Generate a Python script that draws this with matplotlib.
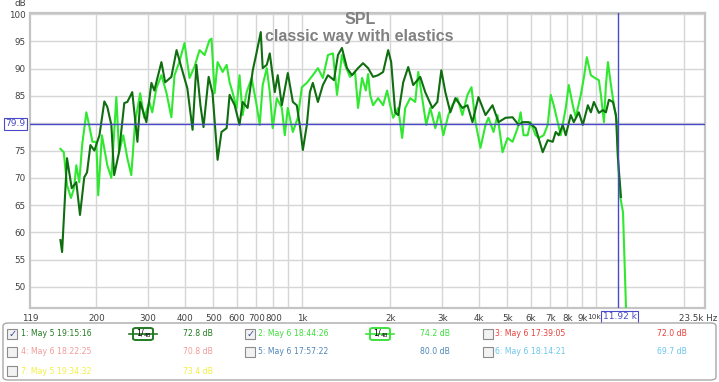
import matplotlib.pyplot as plt
from matplotlib.patches import FancyBboxPatch, Rectangle
from matplotlib.lines import Line2D
from matplotlib.transforms import ScaledTranslation

W, H = 719, 382

# trace 1 (dark green) - May 5 19:15:16
freq_1 = [151, 153, 159, 165, 171, 176, 182, 186, 191, 197,
          205, 213, 218, 225, 230, 239, 249, 255, 265, 276,
          282, 296, 308, 315, 333, 343, 360, 375, 390, 408,
          425, 438, 452, 463, 482, 497, 517, 533, 555, 568,
          591, 614, 629, 654, 681, 702, 725, 736, 760, 778,
          809, 828, 855, 896, 932, 961, 984, 1008, 1040, 1065,
          1090, 1134, 1179, 1227, 1286, 1327, 1369, 1424, 1481, 1553,
          1615, 1680, 1747, 1817, 1890, 1966, 2013, 2077, 2127, 2212,
          2300, 2392, 2527, 2628, 2778, 2889, 2981, 3076, 3199, 3328,
          3516, 3658, 3804, 3988, 4213, 4451, 4666, 4929, 5208, 5460,
          5634, 5905, 6240, 6594, 6858, 7133, 7303, 7476, 7714, 7898,
          8214, 8410, 8747, 9027, 9391, 9614, 9844, 10237, 10565, 10817,
          11076, 11429, 11701, 11886, 12169]
spl_1 = [58.6, 56.4, 73.6, 68.1, 69.2, 63.2, 70.1, 71.0, 76.0, 75.0,
         77.8, 84.0, 83.0, 79.7, 70.5, 74.7, 83.7, 83.9, 85.7, 76.6,
         83.9, 80.2, 87.4, 86.0, 91.2, 87.5, 88.5, 93.4, 90.1, 86.4,
         78.8, 90.7, 83.3, 79.3, 88.5, 85.5, 73.3, 78.4, 79.1, 85.2,
         83.3, 79.7, 83.9, 82.8, 89.7, 93.0, 96.7, 90.1, 90.7, 92.8,
         85.7, 88.8, 83.3, 89.2, 83.9, 83.3, 79.7, 75.1, 79.7, 85.7,
         87.4, 83.9, 87.0, 88.8, 87.9, 92.5, 93.8, 90.1, 88.8, 90.1,
         91.0, 90.1, 88.5, 88.8, 89.4, 93.4, 91.2, 82.0, 81.5, 87.5,
         90.3, 87.0, 88.5, 85.7, 82.8, 83.9, 89.7, 85.7, 82.0, 84.6,
         82.8, 83.3, 80.2, 84.8, 81.5, 83.3, 80.2, 81.0, 81.1, 79.7,
         80.2, 80.2, 79.1, 74.7, 76.9, 76.6, 78.4, 77.8, 79.7, 77.8,
         81.5, 80.2, 82.0, 79.7, 83.3, 82.0, 83.9, 81.9, 82.4, 82.0,
         84.3, 83.9, 81.5, 73.6, 66.5]

# trace 2 (bright green) - May 6 18:44:26
freq_2 = [151, 155, 159, 164, 168, 171, 175, 179, 185, 189,
          194, 200, 203, 209, 218, 225, 234, 239, 247, 255,
          263, 271, 282, 291, 303, 310, 320, 333, 346, 360,
          369, 383, 399, 415, 431, 449, 467, 485, 493, 505,
          517, 538, 555, 568, 581, 600, 614, 629, 649, 675,
          702, 719, 736, 760, 778, 796, 822, 855, 875, 896,
          932, 969, 1000, 1040, 1090, 1134, 1179, 1227, 1276, 1317,
          1369, 1402, 1458, 1517, 1553, 1603, 1650, 1680, 1707, 1747,
          1817, 1890, 1950, 1997, 2045, 2127, 2194, 2247, 2337, 2430,
          2488, 2567, 2649, 2734, 2844, 2935, 3028, 3149, 3250, 3381,
          3516, 3658, 3775, 3895, 4051, 4213, 4313, 4486, 4629, 4814,
          5007, 5208, 5417, 5546, 5678, 5859, 5999, 6240, 6390, 6646,
          6858, 7022, 7189, 7418, 7594, 7898, 8086, 8344, 8543, 8886,
          9099, 9317, 9614, 9922, 10237, 10401, 10649, 10817, 10990, 11251,
          11518, 11793, 11886, 12074, 12365, 12659, 12750]
spl_2 = [75.3, 74.7, 68.7, 66.3, 68.1, 72.3, 69.2, 76.0, 82.0, 79.7,
         76.6, 76.6, 66.8, 77.8, 72.3, 70.0, 84.8, 74.7, 77.8, 73.6,
         70.5, 80.2, 85.5, 81.0, 83.9, 82.0, 86.4, 88.8, 85.7, 81.1,
         88.8, 91.2, 94.7, 88.3, 90.3, 93.4, 92.5, 95.2, 95.5, 85.5,
         91.2, 89.4, 90.7, 87.5, 85.7, 82.8, 88.8, 81.5, 85.7, 88.3,
         83.3, 79.7, 87.0, 90.1, 85.7, 79.1, 84.6, 82.8, 77.8, 82.8,
         78.4, 81.0, 86.6, 87.4, 88.8, 90.1, 88.3, 92.5, 92.8, 85.2,
         92.5, 90.7, 88.5, 89.4, 82.8, 88.3, 86.0, 89.0, 85.2, 83.3,
         84.6, 83.3, 86.0, 83.3, 81.0, 82.8, 77.3, 82.8, 84.6, 83.9,
         89.4, 84.6, 79.7, 82.8, 79.1, 82.0, 77.8, 81.5, 83.3, 84.6,
         81.5, 85.2, 86.6, 80.2, 75.5, 79.7, 81.0, 78.4, 81.5, 74.7,
         77.3, 76.6, 79.1, 82.0, 77.8, 77.8, 80.2, 77.8, 77.3, 77.8,
         79.7, 85.2, 83.3, 80.2, 77.8, 82.8, 87.0, 83.3, 81.1, 85.2,
         88.3, 92.1, 88.8, 88.3, 87.9, 85.2, 80.2, 87.0, 91.2, 87.0,
         83.3, 80.2, 73.6, 66.8, 63.7, 46.2, 44.0]

x_ticks = [119, 200, 300, 400, 500, 600, 700, 800, 1000, 2000, 3000, 4000,
           5000, 6000, 7000, 8000, 9000, 10000]
x_labels = ['119', '200', '300', '400', '500', '600', '700', '800', '1k', '2k',
            '3k', '4k', '5k', '6k', '7k', '8k', '9k', '10k']
x_grid = [200, 300, 400, 500, 600, 700, 800, 900, 1000, 2000, 3000, 4000,
          5000, 6000, 7000, 8000, 9000, 10000, 20000]
y_ticks = [50, 55, 60, 65, 70, 75, 85, 90, 95, 100]
y_grid = [50, 55, 60, 65, 70, 75, 80, 85, 90, 95, 100]
cursor_freq = 11920
cursor_db = 79.9

trace_names = ['1: May 5 19:15:16', '2: May 6 18:44:26', '3: May 6 17:39:05',
               '4: May 6 18:22:25', '5: May 6 17:57:22', '6: May 6 18:14:21',
               '7: May 5 19:34:32']
trace_levels = ['72.8 dB', '74.2 dB', '72.0 dB', '70.8 dB', '80.0 dB',
                '69.7 dB', '73.4 dB']
trace_colors = ['#237a23', '#3de03d', '#e8403a', '#f29a9a', '#4f86b8',
                '#6cc6ee', '#f2f040']
trace_checked = [True, True, False, False, False, False, False]

dark_green = '#0f6e0f'
bright_green = '#30e830'
cursor_col = '#4a4ac8'
grid_col = '#d6d6d6'
text_col = '#404040'


def fx(x):
    return x / W


def fy(y):
    return 1 - y / H


fig = plt.figure(figsize=(W / 100, H / 100), dpi=100)
ax = fig.add_axes([fx(30), fy(308), (705 - 30) / W, (308 - 13) / H])

ax.set_xscale('log')
ax.set_xlim(119, 23500)
ax.set_ylim(46.15, 100.2)

for g in x_grid:
    ax.axvline(g, color=grid_col, lw=1, zorder=1)
for g in y_grid:
    ax.axhline(g, color=grid_col, lw=1, zorder=1)

ax.plot(freq_2, spl_2, color=bright_green, lw=1.5, zorder=3)
ax.plot(freq_1, spl_1, color=dark_green, lw=1.5, zorder=4)

ax.axvline(cursor_freq, color=cursor_col, lw=1, zorder=5)
ax.axhline(cursor_db, color=cursor_col, lw=1, zorder=5)

ax.set_xticks(x_ticks)
ax.set_xticklabels(x_labels)
ax.set_xticks([], minor=True)
ax.set_yticks(y_ticks)
ax.set_yticklabels([str(v) for v in y_ticks])
ax.tick_params(length=0, labelsize=6.3, labelcolor=text_col)
ax.tick_params(axis='x', pad=4)
ax.tick_params(axis='y', pad=3)
# the 10k label is squeezed between 9k and the cursor readout
last = ax.get_xticklabels()[-1]
last.set_fontsize(5.4)
last.set_transform(last.get_transform() +
                   ScaledTranslation(-2 / 100, 0, fig.dpi_scale_trans))
for s in ax.spines.values():
    s.set_color('#c4c4c4')
    s.set_linewidth(1.6)

# cursor readouts
ax.annotate(f'{cursor_db}', xy=(0, cursor_db), xycoords=('axes fraction', 'data'),
            xytext=(-3, 0), textcoords='offset points', ha='right', va='center',
            fontsize=6.5, color=cursor_col, zorder=10, annotation_clip=False,
            bbox=dict(boxstyle='square,pad=0.15', fc='white', ec=cursor_col, lw=0.8))
ax.annotate('11.92 k', xy=(cursor_freq, 0), xycoords=('data', 'axes fraction'),
            xytext=(1, -3), textcoords='offset points', ha='center', va='top',
            fontsize=6.5, color=cursor_col, zorder=10, annotation_clip=False,
            bbox=dict(boxstyle='square,pad=0.15', fc='white', ec=cursor_col, lw=0.8))
ax.annotate('23.5k Hz', xy=(1, 0), xycoords='axes fraction',
            xytext=(9, -4.5), textcoords='offset points', ha='right', va='top',
            fontsize=6.3, color=text_col, annotation_clip=False)

fig.text(fx(20), fy(4), 'dB', fontsize=6.3, color=text_col, ha='center', va='center')

# titles
fig.text(fx(360), fy(19.5), 'SPL', fontsize=11.5, fontweight='bold',
         family='Liberation Sans', color='#808080', ha='center', va='center')
fig.text(fx(359), fy(37), 'classic way with elastics', fontsize=11.5,
         fontweight='bold', family='Liberation Sans', color='#808080',
         ha='center', va='center')

# legend panel
fig.patches.append(FancyBboxPatch((fx(3), fy(380)), fx(713), (380 - 323) / H,
                                  boxstyle='round,pad=0,rounding_size=0.008',
                                  transform=fig.transFigure, fc='white',
                                  ec='#a8a8a8', lw=1))

col_box = [7, 245, 483]
col_text = [21, 258, 495]
col_level = [183, 420, 657]
col_icon = [143, 380]
row_y = [334, 352, 371]

for i, name in enumerate(trace_names):
    r, c = divmod(i, 3)
    y = row_y[r]
    col = trace_colors[i]
    fig.patches.append(Rectangle((fx(col_box[c]), fy(y + 5)), 10 / W, 10 / H,
                                 transform=fig.transFigure, fc='#f2f2f2',
                                 ec='#8c8c8c', lw=0.8))
    if trace_checked[i]:
        fig.text(fx(col_box[c] + 5.5), fy(y - 0.5), '\u2713', fontsize=7,
                 color='#3b4a90', ha='center', va='center')
        cx = col_icon[c]
        fig.lines.append(Line2D([fx(cx - 14), fx(cx + 14)], [fy(y), fy(y)],
                                transform=fig.transFigure, color=col, lw=1.2))
        fig.patches.append(FancyBboxPatch((fx(cx - 10), fy(y + 6)), 20 / W, 12 / H,
                                          boxstyle='round,pad=0,rounding_size=0.004',
                                          transform=fig.transFigure, fc='white',
                                          ec=col, lw=1.4))
        fig.text(fx(cx - 3), fy(y - 1), '1/', fontsize=5.8, color='black',
                 ha='center', va='center')
        fig.text(fx(cx + 4), fy(y + 1.5), '48', fontsize=4.2, color='black',
                 ha='center', va='center')
    fig.text(fx(col_text[c]), fy(y), name, fontsize=5.6, color=col,
             ha='left', va='center')
    fig.text(fx(col_level[c]), fy(y), trace_levels[i], fontsize=5.6, color=col,
             ha='left', va='center')

fig.savefig('out.png', dpi=100)
